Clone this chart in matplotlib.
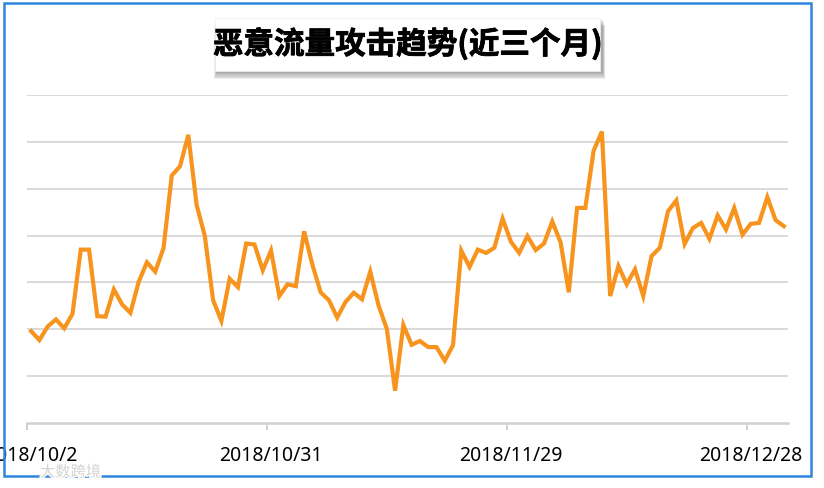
import matplotlib
matplotlib.use("Agg")
import matplotlib.pyplot as plt
import matplotlib.patches as mpatches
import matplotlib.patheffects as pe

plt.rcParams["font.family"] = ["Noto Sans CJK SC", "DejaVu Sans"]

# ── data: daily attack level, 2018/10/2 .. 2019/1/1 ──
values = [
    1.96, 1.77, 2.06, 2.21, 2.02, 2.33, 3.70, 3.70, 2.28, 2.27,
    2.85, 2.53, 2.35, 3.01, 3.43, 3.23, 3.73, 5.28, 5.48, 6.15,
    4.66, 3.99, 2.62, 2.18, 3.08, 2.90, 3.83, 3.81, 3.26, 3.68,
    2.71, 2.96, 2.92, 4.09, 3.38, 2.79, 2.62, 2.25, 2.58, 2.78,
    2.64, 3.23, 2.51, 2.01, 0.69, 2.09, 1.67, 1.75, 1.62, 1.62,
    1.33, 1.66, 3.68, 3.33, 3.70, 3.63, 3.74, 4.36, 3.87, 3.63,
    3.99, 3.69, 3.83, 4.30, 3.86, 2.79, 4.59, 4.59, 5.81, 6.22,
    2.71, 3.35, 2.96, 3.28, 2.71, 3.56, 3.74, 4.52, 4.75, 3.82,
    4.16, 4.27, 3.93, 4.43, 4.13, 4.59, 4.02, 4.25, 4.27, 4.82,
    4.33, 4.20,
]
tick_idx = [0, 29, 58, 87]
tick_labels = ["2018/10/2", "2018/10/31", "2018/11/29", "2018/12/28"]
grid_levels = [1, 2, 3, 4, 5, 6, 7]
title = "恶意流量攻击趋势(近三个月)"

W, H = 824, 489
fig = plt.figure(figsize=(W / 100, H / 100), dpi=100)
fig.patch.set_facecolor("white")

# plot area in pixels: x 27..788, y 96..424
ax = fig.add_axes([27 / W, (H - 424) / H, (788 - 27) / W, (424 - 96) / H])
ax.set_facecolor("none")
x = list(range(len(values)))
ax.plot(x, values, color="#F7941D", lw=3.0, solid_joinstyle="miter", zorder=3)
ax.set_xlim(-0.5, len(values) - 0.5)
ax.set_ylim(0, 7)

for g in grid_levels:
    ax.axhline(g, color="#d9d9d9", lw=1.4, zorder=1)

for s in ["top", "right", "left"]:
    ax.spines[s].set_visible(False)
ax.spines["bottom"].set_color("#d0d0d0")
ax.spines["bottom"].set_linewidth(1.8)
ax.set_yticks([])

ax.set_xticks(tick_idx)
ax.set_xticklabels(tick_labels, fontsize=14, fontfamily=["Noto Sans", "DejaVu Sans"])
ax.tick_params(axis="x", which="major", length=0, pad=16)
ax.set_xticks([i - 0.5 for i in tick_idx], minor=True)
ax.tick_params(axis="x", which="minor", length=5, width=1.2, color="#c8c8c8")

# title box with soft shadow (stacked translucent layers)
bx0, by0, bx1, by1 = 215, 19, 600, 72
for k in range(6):
    off = 8 - k * 1.2
    grow = 3 - k * 0.5
    fig.patches.append(mpatches.Rectangle(
        ((bx0 - grow + 2) / W, (H - by1 - off) / H),
        (bx1 - bx0 + 2 * grow) / W, (by1 - by0) / H,
        transform=fig.transFigure, facecolor="#404040", edgecolor="none",
        alpha=0.09, zorder=4))
fig.patches.append(mpatches.Rectangle(
    (bx0 / W, (H - by1) / H), (bx1 - bx0) / W, (by1 - by0) / H,
    transform=fig.transFigure, facecolor="white", edgecolor="#eeeeee", lw=0.5, zorder=5))
fig.text((bx0 + bx1) / 2 / W, (H - (by0 + by1) / 2) / H, title,
         ha="center", va="center", fontsize=22, fontweight="heavy", color="black", zorder=6,
         path_effects=[pe.withStroke(linewidth=0.6, foreground="black")])

# blue frame
fig.patches.append(mpatches.Rectangle(
    (4 / W, (H - 477) / H), (811 - 4) / W, (477 - 4) / H,
    transform=fig.transFigure, facecolor="none", edgecolor="#2E86DE", lw=1.8, zorder=7))

# faint watermark
fig.text(40 / W, (H - 473) / H, "大数跨境", fontsize=11, color="#d4d4d4",
         ha="left", va="center", zorder=8,
         path_effects=[pe.withStroke(linewidth=2, foreground="white")])

fig.savefig("out.png", dpi=100)
